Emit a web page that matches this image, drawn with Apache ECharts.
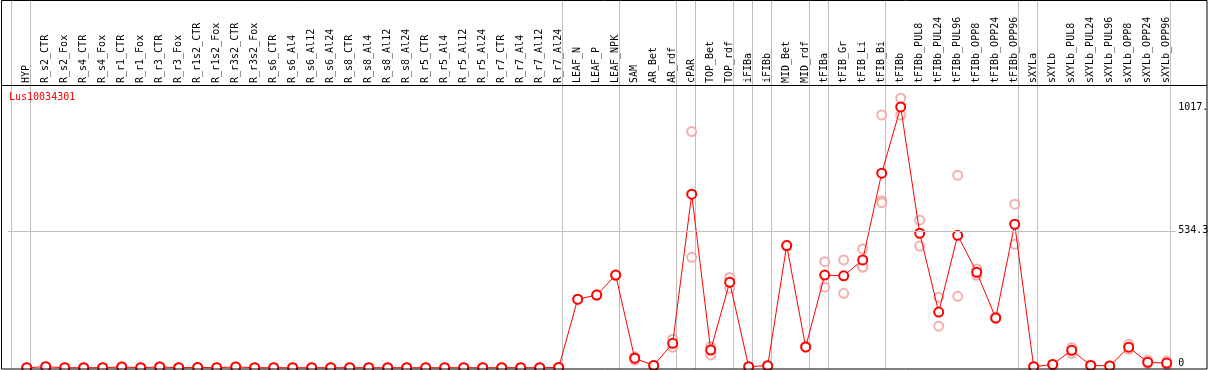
<!DOCTYPE html>
<html><head><meta charset="utf-8">
<script src="https://cdn.jsdelivr.net/npm/echarts@6/dist/echarts.min.js"></script>
<style>html,body{margin:0;padding:0;background:#fff}#c{width:1209px;height:370px}</style>
</head><body><div id="c"></div>
<script>
const geneName = 'Lus10034301';
const categories = ['HYP','R_s2_CTR','R_s2_Fox','R_s4_CTR','R_s4_Fox','R_r1_CTR','R_r1_Fox','R_r3_CTR','R_r3_Fox','R_r1s2_CTR','R_r1s2_Fox','R_r3s2_CTR','R_r3s2_Fox','R_s6_CTR','R_s6_Al4','R_s6_Al12','R_s6_Al24','R_s8_CTR','R_s8_Al4','R_s8_Al12','R_s8_Al24','R_r5_CTR','R_r5_Al4','R_r5_Al12','R_r5_Al24','R_r7_CTR','R_r7_Al4','R_r7_Al12','R_r7_Al24','LEAF_N','LEAF_P','LEAF_NPK','SAM','AR_Bet','AR_rdf','cPAR','TOP_Bet','TOP_rdf','iFIBa','iFIBb','MID_Bet','MID_rdf','tFIBa','tFIB_Gr','tFIB_Li','tFIB_Bi','tFIBb','tFIBb_PUL8','tFIBb_PUL24','tFIBb_PUL96','tFIBb_OPP8','tFIBb_OPP24','tFIBb_OPP96','sXYLa','sXYLb','sXYLb_PUL8','sXYLb_PUL24','sXYLb_PUL96','sXYLb_OPP8','sXYLb_OPP24','sXYLb_OPP96'];
const groupSizes = [1,28,3,3,1,2,1,1,2,1,3,7,1,7];
const means = [1,5,1,1,1,4,1,4,1,2,1,4,1,1,1,1,1,1,1,1,1,1,1,1,1,1,1,1,2,
  268,284,362,38,10,96,677,70,334,5,9,477,82,362,359,421,759,1017,525,218,517,373,195,560,
  5,14,69,10,8,81,22,19];
const rep1 = [1,6,1,1,1,5,1,5,1,2,1,5,1,1,1,1,1,1,1,1,1,1,1,1,1,1,1,1,2,
  268,284,362,44,10,112,921,83,353,5,10,478,84,414,421,464,986,1051,576,276,751,386,199,638,
  5,14,79,12,9,92,31,27];
const rep2 = [1,4,1,1,1,3,1,3,1,2,1,3,1,1,1,1,1,1,1,1,1,1,1,1,1,1,1,1,2,
  266,285,361,31,8,81,431,51,311,4,8,475,80,315,291,397,652,986,475,163,279,361,192,482,
  4,12,57,9,7,73,18,12];
const rep3 = [null,null,null,null,null,null,null,null,null,null,null,null,null,null,null,null,null,null,null,null,null,null,null,null,null,null,null,null,null,
  null,null,null,null,null,null,null,null,null,null,null,null,null,null,null,392,644,null,null,null,null,null,null,null,
  null,null,null,null,null,null,null,null];
const yTickValues = [0, 534.3, 1017];
const yTickLabels = ['0', '534.3', '1017.'];
const yGridValue = 534.3;

const MONO = 'DejaVu Sans Mono';
const boundaries = [-1];
let acc = -1;
groupSizes.forEach(g => { acc += g; boundaries.push(acc); });
const lineOff = 0.19;

const meanData = means.map((v, i) => [i, v]);
const repData = [];
[rep1, rep2, rep3].forEach(r => r.forEach((v, i) => { if (v != null) repData.push([i, v]); }));

const xEnd = categories.length - 0.5;
const hLines = yTickValues.map((v, k) => {
  const isGrid = v === yGridValue;
  const col = isGrid ? '#c0c0c0' : 'rgba(0,0,0,0)';
  return [
    { coord: [-1, v], lineStyle: { color: col, width: 1, type: 'solid' } },
    { coord: [xEnd, v], lineStyle: { color: col, width: 1, type: 'solid' },
      label: { show: true, position: 'end', distance: 2, formatter: yTickLabels[k],
      color: '#000', fontFamily: MONO, fontSize: 10, verticalAlign: v === 0 ? 'bottom' : 'middle' } }
  ];
});

const chart = echarts.init(document.getElementById('c'), null, { renderer: 'canvas' });
chart.setOption({
  animation: false,
  backgroundColor: '#fff',
  title: { text: geneName, left: 9, top: 92, padding: 0, z: 10,
    textStyle: { color: '#ff0000', fontFamily: MONO, fontSize: 10, fontWeight: 'normal' } },
  grid: { left: 7.7, right: 4.3, top: 0, bottom: 1, containLabel: false, outerBoundsMode: 'none' },
  xAxis: {
    type: 'value', position: 'top', offset: -85, min: -1, max: 62, interval: 1, z: 10,
    axisLine: { show: false }, axisTick: { show: false }, splitLine: { show: false },
    axisLabel: { show: true, rotate: 90, margin: 2, fontFamily: MONO, fontSize: 10, color: '#000',
      formatter: v => (Number.isInteger(v) && v >= 0 && v < categories.length) ? categories[v] : '' }
  },
  yAxis: { type: 'value', min: -4, max: 1433.8, show: false, splitLine: { show: false } },
  series: [
    { type: 'line', data: [], silent: true, z: 1,
      markLine: { silent: true, symbol: 'none', animation: false,
        lineStyle: { color: '#c0c0c0', width: 1, type: 'solid' }, label: { show: false },
        data: hLines } },
    { type: 'scatter', data: repData, symbol: 'emptyCircle', symbolSize: 9, z: 2,
      itemStyle: { color: '#f29a9a', borderColor: '#f29a9a', borderWidth: 1.3 } },
    { type: 'line', data: meanData, symbol: 'emptyCircle', symbolSize: 9, z: 3,
      lineStyle: { color: '#ff0000', width: 1 },
      itemStyle: { color: '#ff0000', borderColor: '#ff0000', borderWidth: 1.5 } }
  ]
});

// group separator lines, positioned through the x axis scale
const sepLines = boundaries.map(b => {
  const x = Math.round(chart.convertToPixel({ xAxisIndex: 0 }, b + lineOff)) + 0.5;
  return { type: 'line', z: 1, silent: true, shape: { x1: x, y1: 1, x2: x, y2: 369 },
    style: { stroke: '#bdbdbd', lineWidth: 1 } };
});
chart.setOption({
  graphic: sepLines.concat([
    { type: 'rect', z: 100, silent: true, shape: { x: 1.5, y: 0.5, width: 1205.5, height: 368.5 },
      style: { fill: 'none', stroke: '#000', lineWidth: 1 } },
    { type: 'line', z: 100, silent: true, shape: { x1: 1, y1: 85.5, x2: 1207, y2: 85.5 },
      style: { stroke: '#000', lineWidth: 1 } }
  ])
});
</script></body></html>
